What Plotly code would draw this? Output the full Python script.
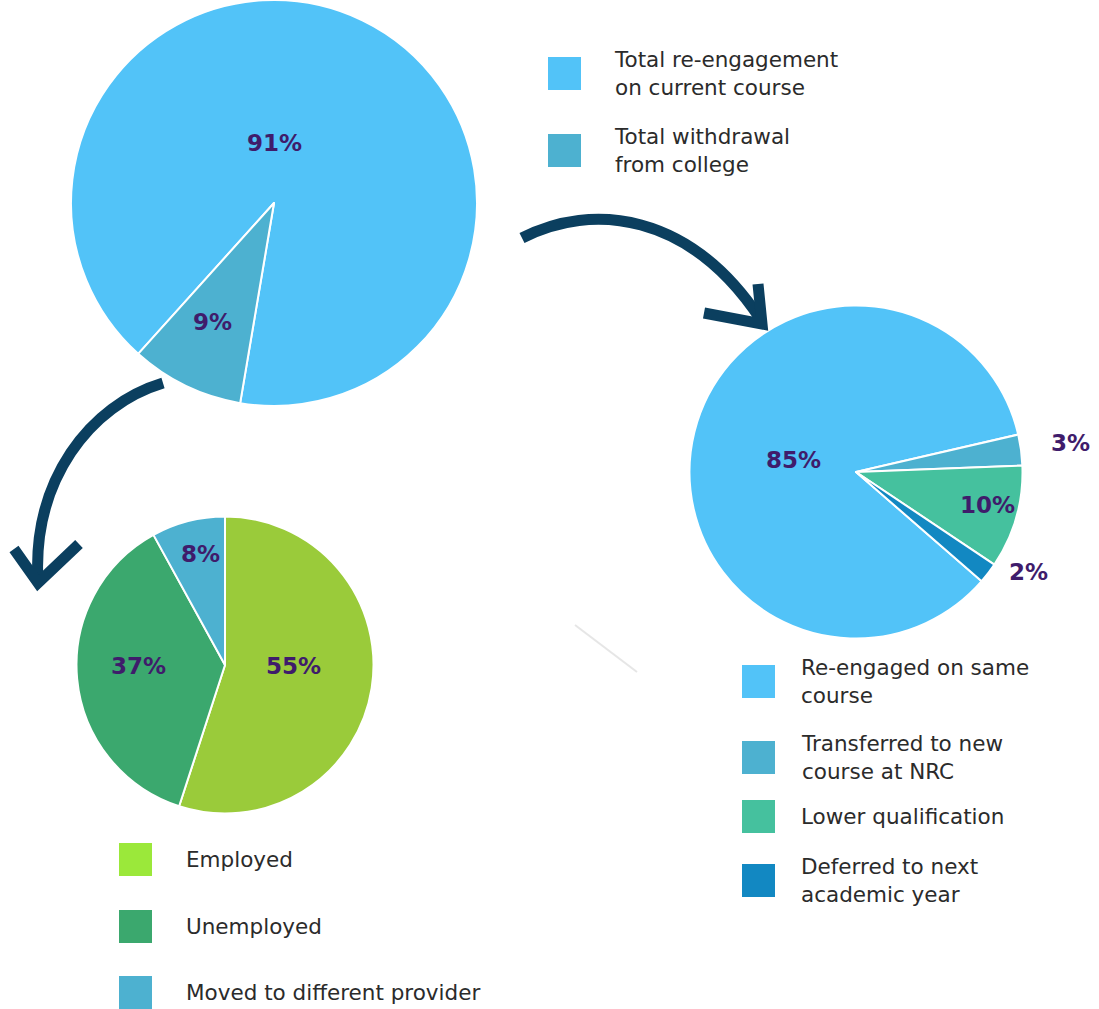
import plotly.graph_objects as go

W, H = 1099, 1009

# ---- data -------------------------------------------------------------
outcome_labels = ["Total re-engagement<br>on current course", "Total withdrawal<br>from college"]
outcome_values = [91, 9]
outcome_colors = ["#52C3F8", "#4DB1D0"]

reengage_labels = ["Re-engaged on same<br>course", "Transferred to new<br>course at NRC",
                   "Lower qualification", "Deferred to next<br>academic year"]
reengage_values = [85, 3, 10, 2]
reengage_colors = ["#52C3F8", "#4DB1D0", "#45C19E", "#1288C2"]

withdraw_labels = ["Employed", "Unemployed", "Moved to different provider"]
withdraw_values = [55, 37, 8]
withdraw_colors = ["#9ACB3A", "#3BA86E", "#4DB1D0"]
withdraw_swatches = ["#9BE83A", "#3BA86E", "#4DB1D0"]

PCT_COLOR = "#3F1C6B"
TEXT_COLOR = "#2B2B2B"
ARROW_COLOR = "#0B3F5F"
FONT = "'DejaVu Sans', sans-serif"


def domain(cx, cy, d):
    """Pixel centre/diameter -> paper domain."""
    x0, x1 = (cx - d / 2) / W, (cx + d / 2) / W
    y0, y1 = 1 - (cy + d / 2) / H, 1 - (cy - d / 2) / H
    clamp = lambda v: min(max(v, 0), 1)
    return dict(x=[clamp(x0), clamp(x1)], y=[clamp(y0), clamp(y1)])


fig = go.Figure()

pies = [
    (outcome_labels, outcome_values, outcome_colors, domain(274, 203, 406), -138),
    (reengage_labels, reengage_values, reengage_colors, domain(856, 472, 333), -229),
    (withdraw_labels, withdraw_values, withdraw_colors, domain(225, 665, 297), 0),
]
for labels, values, colors, dom, rot in pies:
    fig.add_trace(go.Pie(
        labels=labels, values=values, sort=False, direction="clockwise",
        rotation=rot, domain=dom, textinfo="none", hoverinfo="label+percent",
        marker=dict(colors=colors, line=dict(color="white", width=2)),
        showlegend=False,
    ))

# hidden pixel-space axes used to place arrows, swatches and labels
fig.add_trace(go.Scatter(x=[0, W], y=[0, H], mode="markers",
                         marker=dict(opacity=0), hoverinfo="skip", showlegend=False))

annotations = []
shapes = []

# percentage labels
pct_positions = [
    [(274, 143), (212, 322)],
    [(793, 460), (1070, 443), (987, 505), (1028, 572)],
    [(293, 666), (138, 666), (200, 554)],
]
for (labels, values, *_), positions in zip(pies, pct_positions):
    for v, (x, y) in zip(values, positions):
        annotations.append(dict(x=x, y=y, xref="x", yref="y", text=f"<b>{v}%</b>",
                                showarrow=False, xanchor="center", yanchor="middle",
                                font=dict(family=FONT, size=23, color=PCT_COLOR)))


def legend(labels, colors, box_x, box_ys, text_x, size=33):
    for lab, col, y in zip(labels, colors, box_ys):
        shapes.append(dict(type="rect", xref="x", yref="y", x0=box_x, x1=box_x + size,
                           y0=y, y1=y + size, fillcolor=col, line=dict(width=0)))
        annotations.append(dict(x=text_x, y=y + size / 2, xref="x", yref="y", text=lab,
                                showarrow=False, xanchor="left", yanchor="middle", align="left",
                                font=dict(family=FONT, size=21.5, color=TEXT_COLOR)))


legend(outcome_labels, outcome_colors, 548, [57, 134], 612)
legend(reengage_labels, reengage_colors, 742, [665, 741, 800, 864], 799)
legend(withdraw_labels, withdraw_swatches, 119, [843, 910, 976], 184)

# curved arrows
arrow_line = dict(color=ARROW_COLOR, width=11)
shapes += [
    dict(type="path", xref="x", yref="y", path="M 522 238 C 592 202, 690 212, 761 320",
         line=arrow_line),
    dict(type="path", xref="x", yref="y", path="M 704 313 L 762 324 L 758 284",
         line=arrow_line),
    dict(type="path", xref="x", yref="y", path="M 163 383 C 90 405, 32 480, 38 582",
         line=arrow_line),
    dict(type="path", xref="x", yref="y", path="M 14 549 L 38 583 L 79 544",
         line=arrow_line),
    dict(type="line", xref="x", yref="y", x0=575, y0=625, x1=637, y1=672,
         line=dict(color="#E6E6E6", width=2)),
]

fig.update_layout(
    width=W, height=H, margin=dict(l=0, r=0, t=0, b=0),
    paper_bgcolor="white", plot_bgcolor="rgba(0,0,0,0)",
    xaxis=dict(range=[0, W], visible=False, fixedrange=True),
    yaxis=dict(range=[H, 0], visible=False, fixedrange=True),
    annotations=annotations, shapes=shapes,
)

fig.write_html("out.html")
